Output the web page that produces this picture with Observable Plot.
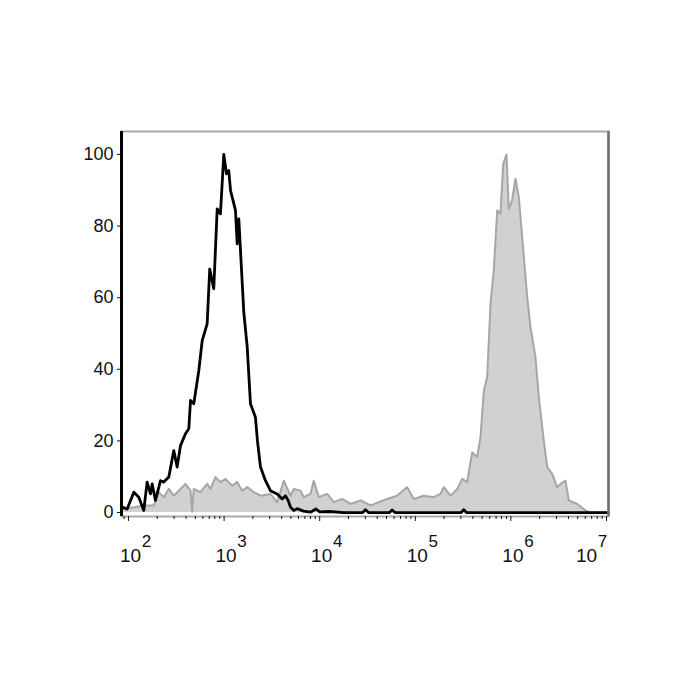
<!DOCTYPE html>
<html><head><meta charset="utf-8">
<script src="https://cdn.jsdelivr.net/npm/d3@7"></script>
<script src="https://cdn.jsdelivr.net/npm/@observablehq/plot@0.6"></script>
<style>body{margin:0;background:#fff}</style>
</head><body><div id="chart"></div>
<script>
// Unstained / isotype (black outline): log10 fluorescence and % of max
const blackLog = [1.934,1.986,2.056,2.108,2.160,2.195,2.230,2.248,2.282,2.335,2.369,2.422,2.474,2.509,2.544,2.596,2.631,2.649,2.683,2.736,2.771,2.823,2.850,2.892,2.928,2.962,2.997,3.025,3.049,3.067,3.119,3.137,3.154,3.206,3.242,3.276,3.328,3.349,3.381,3.433,3.485,3.555,3.608,3.642,3.670,3.695,3.730,3.765,3.830,3.904,3.960,4.000,4.100,4.250,4.450,4.479,4.510,4.730,4.758,4.790,5.480,5.507,5.535,7.021];
const blackCount = [1.5,1.0,5.7,4.3,0.6,8.5,5.2,8.0,3.4,8.9,8.5,9.9,17.3,12.7,18.7,22.0,23.4,31.3,30.4,39.7,48.0,52.7,68.0,62.5,84.8,83.4,100,94.6,95.5,90.0,84.4,75.0,82.0,56.0,46.2,30.4,26.6,20.0,12.7,8.9,6.1,5.2,3.8,4.7,3.4,1.5,0.6,1.1,0.4,0.1,1.0,0.2,0.3,0,0,0.8,0,0,0.7,0,0,0.8,0,0];

// Stained sample (grey filled): log10 fluorescence and % of max
const grayLog = [1.934,2.056,2.160,2.265,2.317,2.369,2.422,2.474,2.526,2.596,2.649,2.666,2.683,2.753,2.823,2.858,2.910,2.962,3.015,3.085,3.137,3.189,3.242,3.311,3.381,3.485,3.555,3.625,3.695,3.729,3.799,3.834,3.904,3.938,3.991,4.078,4.148,4.235,4.322,4.427,4.531,4.618,4.706,4.810,4.915,4.984,5.089,5.193,5.264,5.298,5.368,5.438,5.490,5.543,5.595,5.647,5.682,5.717,5.752,5.787,5.821,5.857,5.891,5.920,5.954,5.978,6.013,6.048,6.083,6.118,6.171,6.205,6.257,6.292,6.344,6.380,6.432,6.484,6.519,6.571,6.606,6.693,6.780,6.833,7.021];
const grayCount = [1.0,1.5,2.0,2.0,5.7,4.3,6.6,4.7,6.1,8.0,6.1,0.3,6.6,5.7,8.0,6.6,9.9,8.5,9.4,7.5,8.5,6.1,7.1,5.7,4.7,5.2,2.9,8.9,4.7,6.6,6.1,4.3,5.2,8.9,4.3,5.2,2.9,3.8,2.4,3.4,2.0,2.9,3.8,4.7,7.1,3.8,4.7,4.3,5.2,7.1,4.7,6.5,9.4,8.5,16.8,15.5,21.0,34.0,37.8,58.3,67.6,84.4,83.4,97.4,100,84.8,87.2,93.2,88.0,76.9,60.1,51.8,43.4,32.2,20.1,12.7,10.8,7.1,8.0,8.9,3.4,2.4,0.6,0,0];

const yTicks = [0,20,40,60,80,100];
const decades = [2,3,4,5,6,7];

const black = blackLog.map((l,i)=>({x: 10**l, y: blackCount[i]}));
const gray = grayLog.map((l,i)=>({x: 10**l, y: grayCount[i]}));
const xDomain = [10**1.927, 10**7.021];
const majors = decades.map(d => 10**d);
const minors = [];
for (let d = 1; d < 7; d++) for (let k = 2; k < 10; k++) {
  const v = k * 10**d;
  if (v >= xDomain[0] && v <= xDomain[1]) minors.push(v);
}

const chart = Plot.plot({
  width: 700, height: 700,
  marginLeft: 121, marginRight: 92, marginTop: 131, marginBottom: 184,
  style: {fontFamily: "'Liberation Sans', Arial, sans-serif", fontSize: "18px", color: "#111", background: "#fff"},
  x: {type: "log", domain: xDomain},
  y: {domain: [-1.1, 106.4]},
  marks: [
    Plot.areaY(gray, {x: "x", y: "y", fill: "#d1d1d1"}),
    Plot.lineY(gray, {x: "x", y: "y", stroke: "#a6a6a6", strokeWidth: 2}),
    Plot.lineY(black, {x: "x", y: "y", stroke: "#000", strokeWidth: 2.8}),
    Plot.frame({stroke: "#a8a8a8", strokeWidth: 2}),
    Plot.ruleX([xDomain[1]], {stroke: "#6e6e6e", strokeWidth: 2.5}),
    Plot.ruleX([xDomain[0]], {stroke: "#000", strokeWidth: 3}),
    Plot.axisY({ticks: yTicks, tickSize: 4, tickPadding: 4, label: null, fontSize: 18}),
    Plot.axisX({ticks: majors, tickSize: 5, tickFormat: () => "", label: null}),
    Plot.axisX({ticks: minors, tickSize: 3, tickFormat: () => "", label: null}),
    Plot.text(decades.slice(0, 5), {x: d => 10**d, text: () => "10", frameAnchor: "bottom", lineAnchor: "middle", dy: 39, dx: 2, fontSize: 19}),
    Plot.text(decades.slice(0, 5), {x: d => 10**d, text: d => String(d), frameAnchor: "bottom", lineAnchor: "middle", dy: 25, dx: 18, fontSize: 17}),
    Plot.text(decades.slice(5), {x: d => 10**d, text: () => "10", frameAnchor: "bottom", lineAnchor: "middle", dy: 39, dx: -20, fontSize: 19}),
    Plot.text(decades.slice(5), {x: d => 10**d, text: d => String(d), frameAnchor: "bottom", lineAnchor: "middle", dy: 25, dx: -4, fontSize: 17})
  ]
});
document.getElementById("chart").appendChild(chart);
</script>
</body></html>
